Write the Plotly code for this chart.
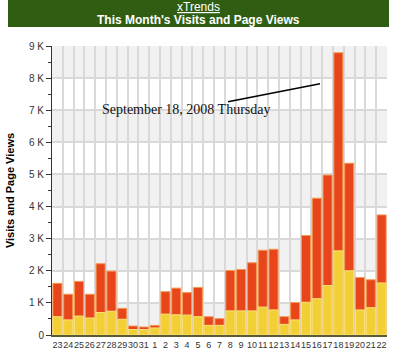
import plotly.graph_objects as go

days = ["23", "24", "25", "26", "27", "28", "29", "30", "31", "1", "2", "3", "4", "5",
        "6", "7", "8", "9", "10", "11", "12", "13", "14", "15", "16", "17", "18", "19",
        "20", "21", "22"]
visits = [570, 470, 590, 530, 700, 740, 490, 170, 170, 220, 650, 630, 620, 570,
          300, 300, 750, 750, 750, 870, 780, 330, 470, 1020, 1130, 1540, 2620, 2000,
          780, 850, 1620]
page_views = [1610, 1270, 1670, 1270, 2220, 1990, 830, 280, 250, 300, 1350, 1460, 1320, 1480,
              570, 510, 2010, 2040, 2250, 2640, 2670, 570, 1010, 3100, 4260, 4980, 8790, 5350,
              1790, 1720, 3740]
y_ticks = [0, 1000, 2000, 3000, 4000, 5000, 6000, 7000, 8000, 9000]
y_tick_text = ["0", "1 K", "2 K", "3 K", "4 K", "5 K", "6 K", "7 K", "8 K", "9 K"]

fig = go.Figure()
fig.add_trace(go.Bar(x=days, y=page_views, name="Page Views",
                     marker=dict(color="#e8461a", line=dict(color="#f39a55", width=1)),
                     width=0.84))
fig.add_trace(go.Bar(x=days, y=visits, name="Visits",
                     marker=dict(color="#f2cf34", line=dict(color="#f8e27a", width=1)),
                     width=0.84))

shapes = []
# white alternating bands
for lo in [1000, 3000, 5000, 7000]:
    shapes.append(dict(type="rect", xref="paper", yref="y", x0=0, x1=1, y0=lo, y1=lo + 1000,
                       fillcolor="white", line=dict(width=0), layer="below"))
# title bar
shapes.append(dict(type="rect", xref="paper", yref="paper",
                   x0=(8 - 52) / 335, x1=(389 - 52) / 335,
                   y0=1 + (46 - 27) / 289, y1=1 + 46 / 289,
                   fillcolor="#2f5e13", line=dict(width=0), layer="below"))
# annotation pointer line
shapes.append(dict(type="line", xref="paper", yref="paper",
                   x0=(228 - 52) / 335, y0=(335 - 101.7) / 289,
                   x1=(320 - 52) / 335, y1=(335 - 83.7) / 289,
                   line=dict(color="black", width=1.5), layer="above"))

fig.update_layout(
    width=400, height=351,
    margin=dict(l=52, r=13, t=46, b=16),
    paper_bgcolor="white",
    plot_bgcolor="#f1f1f1",
    barmode="overlay",
    showlegend=False,
    shapes=shapes,
    font=dict(family="Liberation Sans, Arial, sans-serif", size=10, color="#333"),
    annotations=[
        dict(text="<u>xTrends</u>", xref="paper", yref="paper",
             x=(198 - 52) / 335, y=1 + (46 - 7) / 289, yanchor="middle", showarrow=False,
             font=dict(size=12, color="white")),
        dict(text="<b>This Month's Visits and Page Views</b>", xref="paper", yref="paper",
             x=(198 - 52) / 335, y=1 + (46 - 20) / 289, yanchor="middle", showarrow=False,
             font=dict(size=12, color="white")),
        dict(text="September 18, 2008 Thursday", xref="paper", yref="paper",
             x=(186 - 52) / 335, y=(335 - 110) / 289, yanchor="middle", showarrow=False,
             font=dict(family="Liberation Serif, Times New Roman, serif", size=14, color="#111")),
    ],
    xaxis=dict(type="category", tickson="boundaries", showgrid=True, gridcolor="#d9d9d9",
               gridwidth=1.5, ticks="", showline=True, linecolor="#5a5a35", linewidth=2,
               tickmode="array", tickvals=days, ticktext=days, tickangle=0, automargin=False,
               tickfont=dict(size=9, color="#333"), fixedrange=True),
    yaxis=dict(range=[0, 9000], tickvals=y_ticks, ticktext=y_tick_text, showgrid=True,
               gridcolor="#d9d9d9", gridwidth=1.5, ticks="outside", ticklen=5, tickcolor="#333",
               showline=True, linecolor="#333", linewidth=1, zeroline=False, automargin=False,
               minor=dict(dtick=500, ticks="outside", ticklen=3, tickcolor="#333", showgrid=False),
               tickfont=dict(size=10, color="#333"),
               title=dict(text="<b>Visits and Page Views</b>", standoff=12,
                          font=dict(size=11, color="black"))),
)

fig.write_html("out.html")
